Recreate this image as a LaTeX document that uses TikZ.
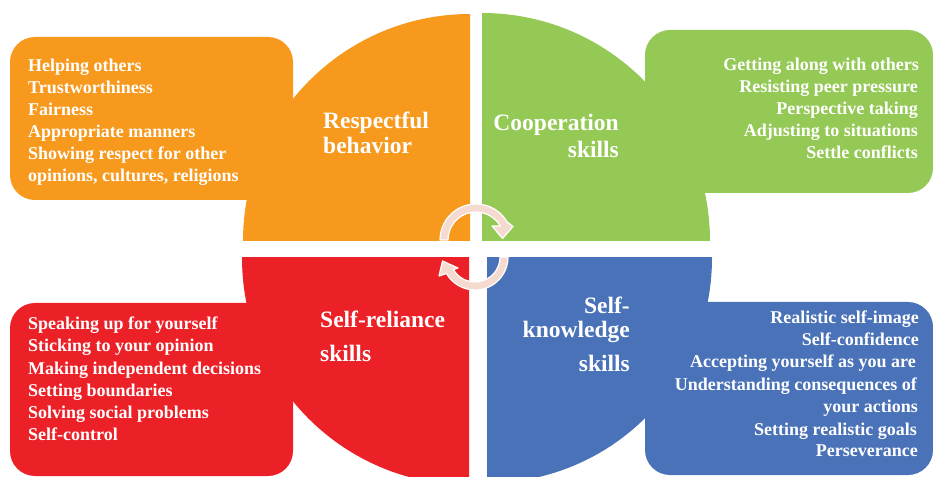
\documentclass[tikz,border=0pt]{standalone}
\usepackage{fontspec}
\setmainfont{Liberation Serif}
\definecolor{cOrange}{HTML}{F7991D}
\definecolor{cGreen}{HTML}{95C955}
\definecolor{cRed}{HTML}{EC2128}
\definecolor{cBlue}{HTML}{4A72B8}
\definecolor{cPink}{HTML}{F5DAD0}
\begin{document}
\begin{tikzpicture}[x=1bp,y=-1bp,
  listtext/.style={text=white,font=\fontsize{18bp}{22bp}\selectfont\bfseries,inner sep=0pt},
  titletext/.style={text=white,font=\fontsize{23.5bp}{28bp}\selectfont\bfseries,inner sep=0pt},
  panel/.style={rounded corners=25bp},
  cyclearrow/.style={fill=cPink,draw=white,line width=1.2bp,line join=round}]
\useasboundingbox (0,0) rectangle (933,477);
% orange quadrant + box
\begin{scope}\clip (243,0) rectangle (470,241); \fill[cOrange] (470,241) circle[radius=227]; \end{scope}
\fill[cOrange,panel] (10,37) rectangle (293,200);
% green
\begin{scope}\clip (482,0) rectangle (712,241); \fill[cGreen] (482,241) circle[radius=228]; \end{scope}
\fill[cGreen,panel] (645,30) rectangle (933,193);
% red
\begin{scope}\clip (240,258) rectangle (469,477); \fill[cRed] (469,258) circle[radius=227]; \end{scope}
\fill[cRed,panel] (10,303) rectangle (293,476);
% blue
\begin{scope}\clip (487,258) rectangle (715,477); \fill[cBlue] (487,258) circle[radius=225]; \end{scope}
\fill[cBlue,panel] (645,302) rectangle (933,475);
% cycle arrows
\filldraw[cyclearrow] (440,240) arc[start angle=180,end angle=330,radius=36]
  -- (513,226.5) -- (502.5,238.5) -- (492,226) -- (500.25,226)
  arc[start angle=330,end angle=180,radius=28] -- cycle;
\filldraw[cyclearrow] (508,257) arc[start angle=0,end angle=150,radius=33]
  -- (439,276) -- (442.5,261) -- (458,268) -- (453.35,269.5)
  arc[start angle=150,end angle=0,radius=25] -- cycle;
% titles
\node[titletext,anchor=base west] (t1a) at (323,129) {Respectful};
\node[titletext,anchor=base west] (t1b) at (323,153.5) {behavior};
\node[titletext,anchor=base east] (t2a) at (619,131) {Cooperation};
\node[titletext,anchor=base east] (t2b) at (619,158) {skills};
\node[titletext,anchor=base west] (t3a) at (320,327.5) {Self-reliance};
\node[titletext,anchor=base west] (t3b) at (320,361.5) {skills};
\node[titletext,anchor=base east] (t4a) at (630,314) {Self-};
\node[titletext,anchor=base east] (t4b) at (630,338) {knowledge};
\node[titletext,anchor=base east] (t4c) at (630,371.5) {skills};
% orange list
\node[listtext,anchor=base west] (o1) at (28,72) {Helping others};
\node[listtext,anchor=base west] (o2) at (28,94) {Trustworthiness};
\node[listtext,anchor=base west] (o3) at (28,116) {Fairness};
\node[listtext,anchor=base west] (o4) at (28,138) {Appropriate manners};
\node[listtext,anchor=base west] (o5) at (28,160) {Showing respect for other};
\node[listtext,anchor=base west] (o6) at (28,182) {opinions, cultures, religions};
% green list
\node[listtext,anchor=base east] (g1) at (919,71) {Getting along with others};
\node[listtext,anchor=base east] (g2) at (918,93) {Resisting peer pressure};
\node[listtext,anchor=base east] (g3) at (918,115) {Perspective taking};
\node[listtext,anchor=base east] (g4) at (918,137) {Adjusting to situations};
\node[listtext,anchor=base east] (g5) at (918,159) {Settle conflicts};
% red list
\node[listtext,anchor=base west] (r1) at (28,330) {Speaking up for yourself};
\node[listtext,anchor=base west] (r2) at (28,352) {Sticking to your opinion};
\node[listtext,anchor=base west] (r3) at (28,374) {Making independent decisions};
\node[listtext,anchor=base west] (r4) at (28,396) {Setting boundaries};
\node[listtext,anchor=base west] (r5) at (28,418) {Solving social problems};
\node[listtext,anchor=base west] (r6) at (28,440) {Self-control};
% blue list
\node[listtext,anchor=base east] (b1) at (919,324) {Realistic self-image};
\node[listtext,anchor=base east] (b2) at (919,346) {Self-confidence};
\node[listtext,anchor=base east] (b3) at (916,368) {Accepting yourself as you are};
\node[listtext,anchor=base east] (b4) at (917,390.5) {Understanding consequences of};
\node[listtext,anchor=base east] (b5) at (918,412.5) {your actions};
\node[listtext,anchor=base east] (b6) at (917,435) {Setting realistic goals};
\node[listtext,anchor=base east] (b7) at (918,456.5) {Perseverance};
\end{tikzpicture}
\end{document}
